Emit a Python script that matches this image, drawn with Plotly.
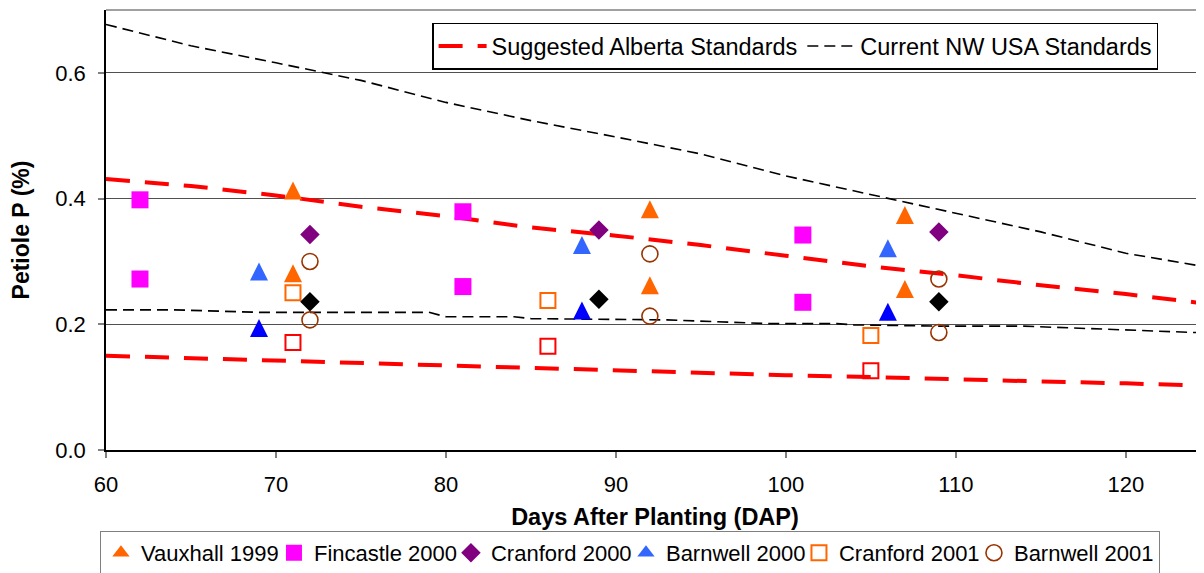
import plotly.graph_objects as go

# Data (DAP = days after planting, P in %)
std_dap = [60, 65, 70, 75, 80, 85, 90, 95, 100, 105, 110, 115, 120, 125]
alberta_hi = [0.431, 0.420, 0.405, 0.387, 0.372, 0.354, 0.341, 0.326, 0.309, 0.292, 0.278, 0.262, 0.248, 0.232]
alberta_lo = [0.150, 0.146, 0.142, 0.138, 0.134, 0.131, 0.127, 0.123, 0.119, 0.116, 0.112, 0.109, 0.106, 0.102]
usa_hi = [0.677, 0.643, 0.616, 0.588, 0.553, 0.524, 0.498, 0.471, 0.436, 0.406, 0.377, 0.347, 0.313, 0.290]
usa_lo_dap = [60, 64, 69, 79, 80, 84, 85, 93, 99, 103, 104, 109, 114, 119, 125]
usa_lo = [0.223, 0.223, 0.219, 0.219, 0.212, 0.212, 0.209, 0.207, 0.201, 0.201, 0.199, 0.197, 0.197, 0.192, 0.186]

vauxhall99_dap = [71, 71, 92, 92, 107, 107]
vauxhall99_p = [0.413, 0.281, 0.383, 0.262, 0.374, 0.256]
fincastle00_dap = [62, 62, 81, 81, 101, 101]
fincastle00_p = [0.398, 0.272, 0.379, 0.260, 0.342, 0.235]
cranford00_dap = [72, 89, 109]
cranford00_p = [0.343, 0.350, 0.347]
cranford00_low_p = [0.236, 0.240, 0.236]
barnwell00_dap = [69, 88, 106]
barnwell00_p = [0.284, 0.326, 0.321]
barnwell00_low_p = [0.194, 0.222, 0.220]
cranford01_dap = [71, 86, 105]
cranford01_p = [0.250, 0.238, 0.182]
cranford01_low_p = [0.171, 0.165, 0.126]
barnwell01_dap = [72, 72, 92, 92, 109, 109]
barnwell01_p = [0.300, 0.207, 0.312, 0.213, 0.272, 0.187]

FONT = "Arial, 'Liberation Sans', sans-serif"

fig = go.Figure()

# standards lines (top legend)
fig.add_trace(go.Scatter(x=std_dap, y=alberta_hi, mode="lines", name="Suggested Alberta Standards",
                         line=dict(color="#FF0000", width=4, dash="24px,15px"), legend="legend2"))
fig.add_trace(go.Scatter(x=std_dap, y=alberta_lo, mode="lines", name="Suggested Alberta Standards",
                         line=dict(color="#FF0000", width=4, dash="24px,15px"), legend="legend2",
                         showlegend=False))
fig.add_trace(go.Scatter(x=std_dap, y=usa_hi, mode="lines", name="Current NW USA Standards",
                         line=dict(color="#000000", width=1.6, dash="11px,6px"), legend="legend2"))
fig.add_trace(go.Scatter(x=usa_lo_dap, y=usa_lo, mode="lines", name="Current NW USA Standards",
                         line=dict(color="#000000", width=1.6, dash="11px,6px"), legend="legend2",
                         showlegend=False))

# triangle marker: arrow rotated and pushed back so it sits centred on the point
tri = dict(symbol="arrow-down", angle=180, standoff=9, size=18)


def pts(x, y, name, marker, show=True, lw=None):
    fig.add_trace(go.Scatter(x=x, y=y, mode="markers", name=name, marker=marker,
                             showlegend=show, legend="legend", legendwidth=lw))


def legend_tri(name, color, lw):
    # legend-only entry, the rotated arrow does not show in the legend
    fig.add_trace(go.Scatter(x=[None], y=[None], mode="markers", name=name, legend="legend",
                             marker=dict(symbol="triangle-up", color=color, size=15),
                             legendwidth=lw))


legend_tri("Vauxhall 1999", "#FF6600", 128)
pts(vauxhall99_dap, vauxhall99_p, "Vauxhall 1999", dict(color="#FF6600", **tri), False)
pts(fincastle00_dap, fincastle00_p, "Fincastle 2000",
    dict(symbol="square", color="#FF00FF", size=17), lw=132)
pts(cranford00_dap, cranford00_p, "Cranford 2000",
    dict(symbol="diamond", color="#800080", size=15), lw=130)
legend_tri("Barnwell 2000", "#3366FF", 128)
pts(barnwell00_dap, barnwell00_p, "Barnwell 2000", dict(color="#3366FF", **tri), False)
pts(cranford01_dap, cranford01_p, "Cranford 2001",
    dict(symbol="square-open", color="#FF6600", size=15, line=dict(width=2)), lw=130)
pts(barnwell01_dap, barnwell01_p, "Barnwell 2001",
    dict(symbol="circle-open", color="#993300", size=16, line=dict(width=1.6)))
# second sampling values (not in the visible legend)
pts(cranford00_dap, cranford00_low_p, "Cranford 2000 (2)",
    dict(symbol="diamond", color="#000000", size=15), False)
pts(barnwell00_dap, barnwell00_low_p, "Barnwell 2000 (2)", dict(color="#0000FF", **tri), False)
pts(cranford01_dap, cranford01_low_p, "Cranford 2001 (2)",
    dict(symbol="square-open", color="#FF0000", size=15, line=dict(width=2)), False)

# page has an 8px body margin, so the figure is 8px smaller than the window
fig.update_layout(
    width=1196, height=565,
    margin=dict(l=98, r=0, t=2, b=123, autoexpand=False),
    paper_bgcolor="white", plot_bgcolor="white",
    font=dict(family=FONT, size=22, color="black"),
    legend=dict(orientation="h", x=-0.0055, y=-0.184, xanchor="left", yanchor="top",
                bordercolor="#808080", borderwidth=1, bgcolor="white",
                font=dict(size=22), traceorder="normal"),
    legend2=dict(orientation="h", x=0.297, y=0.971, xanchor="left", yanchor="top",
                 bordercolor="black", borderwidth=1.5, bgcolor="white",
                 itemwidth=48, font=dict(size=23.5)),
    shapes=[dict(type="line", xref="paper", yref="paper", x0=0, x1=1, y0=1, y1=1,
                 line=dict(color="#808080", width=1.5))],
)

fig.update_xaxes(range=[60, 124.6], dtick=10, showgrid=False, zeroline=False,
                 showline=True, linecolor="black", linewidth=2,
                 ticks="outside", ticklen=6, tickcolor="#808080", tickwidth=1.5,
                 ticklabelstandoff=8,
                 title=dict(text="<b>Days After Planting (DAP)</b>", font=dict(size=23.5), standoff=12))
fig.update_yaxes(range=[0, 0.7], dtick=0.2, tickformat=".1f", showgrid=True,
                 gridcolor="#505050", gridwidth=1, zeroline=False,
                 showline=True, linecolor="black", linewidth=1.5,
                 ticks="outside", ticklen=6, tickcolor="#808080", tickwidth=1.5,
                 ticklabelstandoff=8,
                 title=dict(text="<b>Petiole P (%)</b>", font=dict(size=23), standoff=20))

fig.write_html("out.html")
